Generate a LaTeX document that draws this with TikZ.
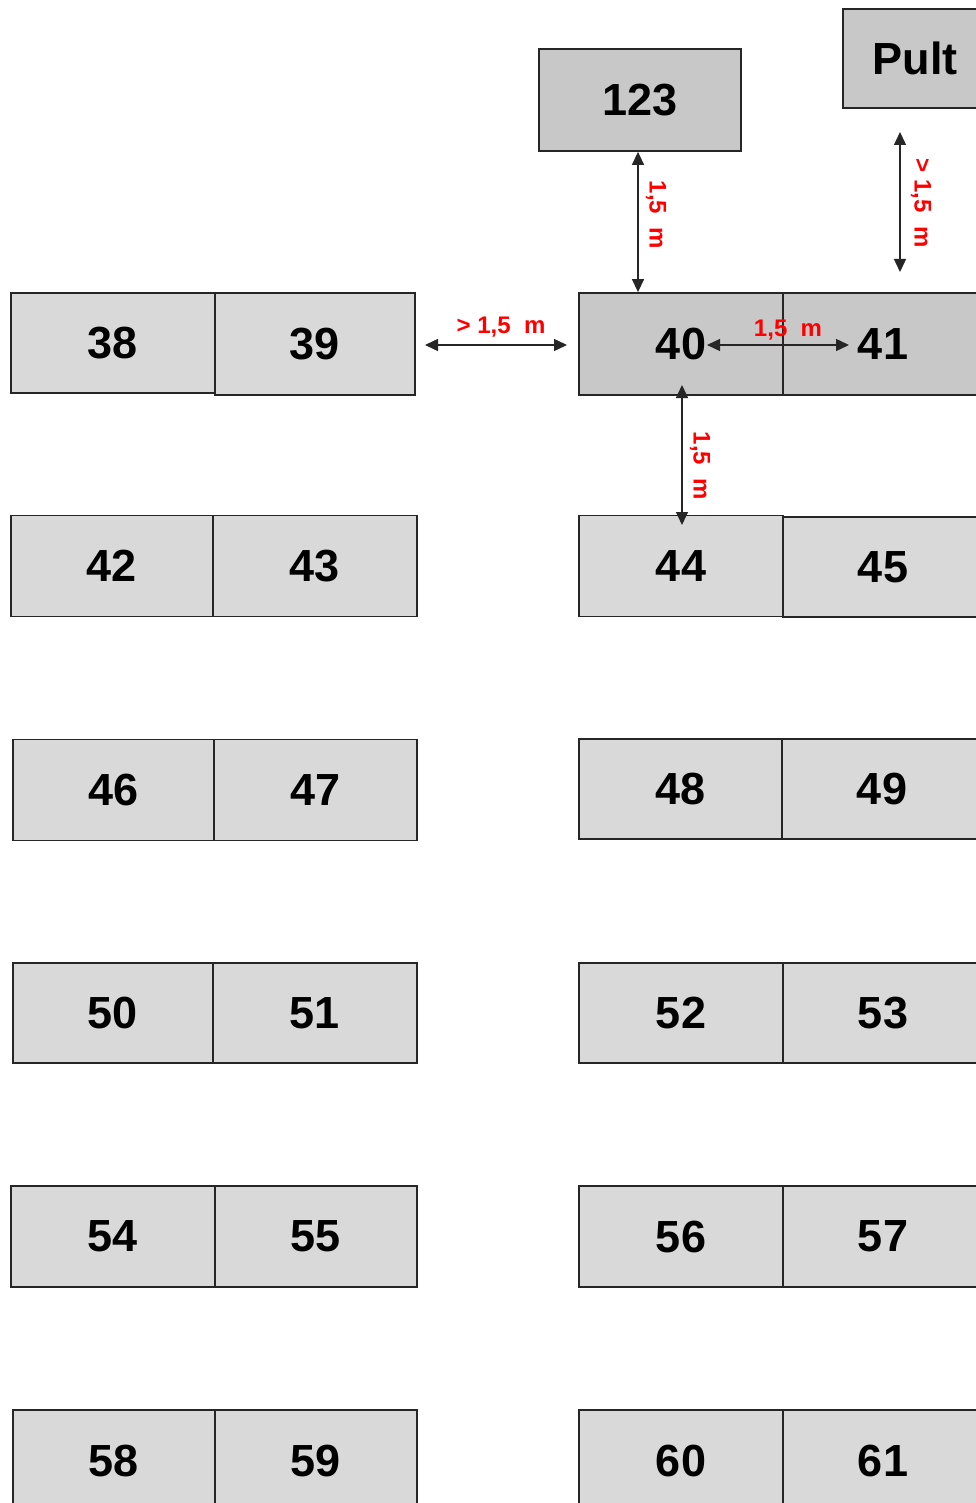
\documentclass[tikz,border=0pt]{standalone}
\usepackage{fontspec}
\setmainfont{Liberation Sans}
\usetikzlibrary{arrows.meta}
\definecolor{deskA}{HTML}{D9D9D9}
\definecolor{deskB}{HTML}{C8C8C8}
\definecolor{dimred}{HTML}{FF0000}
\tikzset{
  desk/.style={draw=black!85, line width=1.8pt, fill=deskA, inner sep=0pt,
    minimum width=202pt, minimum height=101pt,
    font=\fontsize{45}{50}\selectfont\bfseries},
  deskdark/.style={desk, fill=deskB},
  dimarrow/.style={line width=1.4pt, black!85,
    {Triangle[length=13pt,width=12pt]}-{Triangle[length=13pt,width=12pt]}},
  dimlabel/.style={text=dimred, font=\fontsize{24}{26}\selectfont\bfseries, inner sep=0pt}
}
\begin{document}
\begin{tikzpicture}[x={(1pt,0)}, y={(0,-1pt)}]
\useasboundingbox (0,0) rectangle (976,1503);
\clip (0,0) rectangle (976,1503);
\fill[white] (0,0) rectangle (976,1503);

% top boxes
\node[deskdark, minimum width=202pt, minimum height=102pt] (n123) at (640,100) {123};
\node[deskdark, minimum width=144pt, minimum height=99pt] (pult) at (915,58.5) {Pult};

% row 1
\node[desk, minimum width=204pt, minimum height=100pt] (n38) at (113,343) {38};
\node[desk, minimum width=200pt, minimum height=102pt] (n39) at (315,344) {39};
\node[deskdark, minimum width=204pt, minimum height=102pt] (n40) at (681,344) {40};
\node[deskdark, minimum width=200pt, minimum height=102pt] (n41) at (883,344) {41};

% row 2
\node[desk] (n42) at (112,566) {42};
\node[desk, minimum width=204pt] (n43) at (315,566) {43};
\node[desk, minimum width=204pt] (n44) at (681,566) {44};
\node[desk, minimum width=200pt, minimum height=100pt] (n45) at (883,567) {45};

% row 3
\node[desk, minimum width=201pt] (n46) at (113.5,790) {46};
\node[desk, minimum width=203pt] (n47) at (315.5,790) {47};
\node[desk, minimum width=203pt, minimum height=100pt] (n48) at (680.5,789) {48};
\node[desk, minimum width=200pt, minimum height=100pt] (n49) at (882,789) {49};

% row 4
\node[desk, minimum width=200pt, minimum height=100pt] (n50) at (113,1013) {50};
\node[desk, minimum width=204pt, minimum height=100pt] (n51) at (315,1013) {51};
\node[desk, minimum width=204pt, minimum height=100pt] (n52) at (681,1013) {52};
\node[desk, minimum width=200pt, minimum height=100pt] (n53) at (883,1013) {53};

% row 5
\node[desk, minimum width=204pt] (n54) at (113,1236.5) {54};
\node[desk, minimum width=202pt] (n55) at (316,1236.5) {55};
\node[desk, minimum width=204pt] (n56) at (681,1236.5) {56};
\node[desk, minimum width=200pt] (n57) at (883,1236.5) {57};

% row 6
\node[desk, minimum width=202pt] (n58) at (114,1460.5) {58};
\node[desk, minimum width=202pt] (n59) at (316,1460.5) {59};
\node[desk, minimum width=204pt] (n60) at (681,1460.5) {60};
\node[desk, minimum width=200pt] (n61) at (883,1460.5) {61};

% dimension arrows
\coordinate (h1a) at (425,345);
\coordinate (h1b) at (567,345);
\draw[dimarrow] (h1a) -- (h1b);
\node[dimlabel] (l1) at (501,327) {>\ 1,5\ \ m};

\coordinate (h2a) at (707,345);
\coordinate (h2b) at (849,345);
\draw[dimarrow] (h2a) -- (h2b);
\node[dimlabel] (l2) at (788,330) {1,5\ \ m};

\coordinate (v1) at (638,0);
\draw[dimarrow] (n123.south -| v1) -- (n40.north -| v1);
\node[dimlabel, rotate=-90] (l3) at (656,215) {1,5\ \ m};

\coordinate (v2a) at (900,132);
\coordinate (v2b) at (900,272);
\draw[dimarrow] (v2a) -- (v2b);
\node[dimlabel, rotate=-90] (l4) at (921,203) {>\ 1,5\ \ m};

\coordinate (v3a) at (682,385);
\coordinate (v3b) at (682,525);
\draw[dimarrow] (v3a) -- (v3b);
\node[dimlabel, rotate=-90] (l5) at (700,466) {1,5\ \ m};
\end{tikzpicture}
\end{document}
